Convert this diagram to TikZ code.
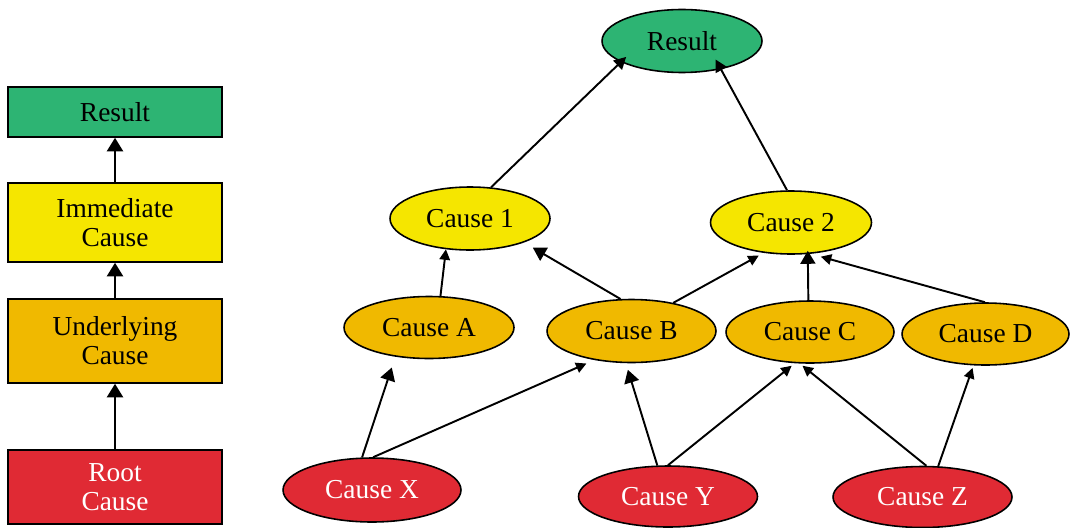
\documentclass[tikz,border=0pt]{standalone}
\usepackage{fontspec}
\setmainfont{Liberation Serif}
\usetikzlibrary{shapes.geometric,arrows.meta}
\definecolor{resgreen}{RGB}{45,180,115}
\definecolor{immyellow}{RGB}{245,230,0}
\definecolor{undorange}{RGB}{240,185,0}
\definecolor{rootred}{RGB}{224,42,52}
\begin{document}
\begin{tikzpicture}[x=0.02cm,y=-0.02cm,
  lbl/.style={font=\fontsize{15.6}{16.5}\selectfont},
  box/.style={lbl, draw=black, line width=0.9pt, minimum width=4.28cm, align=center, inner sep=0pt},
  ell/.style={lbl, ellipse, draw=black, line width=0.9pt, inner sep=0pt},
  ltip/.style={line width=1.2pt, -{Triangle[length=0.27cm,width=0.32cm]}},
  btip/.style={line width=1.1pt, -{Triangle[length=0.26cm,width=0.3cm]}},
  mtip/.style={line width=1.1pt, -{Triangle[length=0.24cm,width=0.25cm]}},
  stip/.style={line width=1.1pt, -{Triangle[length=0.21cm,width=0.21cm]}}
]
\useasboundingbox (0,0) rectangle (1070,527);

% left column
\node[box, fill=resgreen, minimum height=1.0cm] (lres) at (115,112) {Result};
\node[box, fill=immyellow, minimum height=1.58cm] (limm) at (115,222.5) {Immediate\\Cause};
\node[box, fill=undorange, minimum height=1.68cm] (lund) at (115,341) {Underlying\\Cause};
\node[box, fill=rootred, text=white, minimum height=1.48cm] (lroot) at (115,487) {Root\\Cause};

\draw[ltip] (limm.north) -- (lres.south);
\draw[ltip] (lund.north) -- (limm.south);
\draw[ltip] (lroot.north) -- (lund.south);

% right graph
\node[ell, fill=resgreen, minimum width=3.2cm, minimum height=1.26cm] (res) at (682,41) {Result};
\node[ell, fill=immyellow, minimum width=3.2cm, minimum height=1.26cm] (c1) at (470,218.5) {Cause 1};
\node[ell, fill=immyellow, minimum width=3.22cm, minimum height=1.26cm] (c2) at (791,222.5) {Cause 2};
\node[ell, fill=undorange, minimum width=3.4cm, minimum height=1.24cm] (ca) at (429,327.5) {Cause A};
\node[ell, fill=undorange, minimum width=3.38cm, minimum height=1.26cm] (cb) at (631.5,331) {Cause B};
\node[ell, fill=undorange, minimum width=3.36cm, minimum height=1.24cm] (cc) at (810,332) {Cause C};
\node[ell, fill=undorange, minimum width=3.34cm, minimum height=1.24cm] (cd) at (985.5,334) {Cause D};
\node[ell, fill=rootred, text=white, minimum width=3.56cm, minimum height=1.28cm] (cx) at (372,490) {Cause X};
\node[ell, fill=rootred, text=white, minimum width=3.58cm, minimum height=1.22cm] (cy) at (668,496.5) {Cause Y};
\node[ell, fill=rootred, text=white, minimum width=3.58cm, minimum height=1.22cm] (cz) at (922.5,497) {Cause Z};

\draw[mtip, shorten >=-0.148cm] (c1.56.7) -- (res.199.6);
\draw[mtip, shorten >=-0.222cm] (c2.97) -- (res.324.1);
\draw[stip] (ca.70.2) -- (c1.232.7);
\draw[btip, shorten >=0.206cm] (cb.109.8) -- (c1.336.8);
\draw[stip, shorten >=0.112cm] (cb.34.7) -- (c2.228.8);
\draw[btip, shorten >=-0.066cm] (cc.93.7) -- (c2.298.9);
\draw[stip, shorten >=0.212cm] (cd.91) -- (c2.302.9);
\draw[btip, shorten >=0.228cm] (cx.107.4) -- (ca.221.6);
\draw[stip, shorten >=0.172cm] (cx.88.2) -- (cb.218.7);
\draw[btip, shorten >=0.138cm] (cy.109.8) -- (cb.260.1);
\draw[stip, shorten >=0.08cm] (cy.90) -- (cc.244);
\draw[stip, shorten >=0.07cm] (cz.83.6) -- (cc.252.5);
\draw[stip, shorten >=0.052cm] (cz.63.4) -- (cd.249.2);
\end{tikzpicture}
\end{document}
